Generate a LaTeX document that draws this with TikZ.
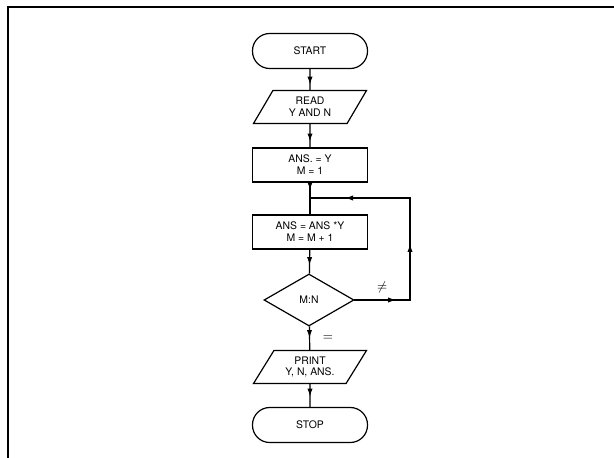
\documentclass[tikz,border=0pt]{standalone}
\usepackage{fontspec}
\setmainfont{TeX Gyre Heros}
\usetikzlibrary{positioning, arrows.meta, decorations.markings, shapes}

\tikzset{flowtip/.tip={Latex[length=2mm, width=1.3mm]}}

\begin{document}
\begin{tikzpicture}[
		x=0.25mm, y=-0.25mm,
		line width=0.3mm,
		every node/.style={font=\fontsize{7.4}{8.4}\selectfont, align=center},
		terminal/.style={draw, rectangle, rounded corners=4.3mm, minimum width=28.75mm, minimum height=8.75mm},
		io/.style={draw, trapezium, trapezium left angle=56, trapezium right angle=124, trapezium stretches body, minimum width=28.25mm, minimum height=8.25mm},
		process/.style={draw, rectangle, minimum width=28.75mm, minimum height=8.5mm},
		decision/.style={draw, diamond, minimum width=22.5mm, minimum height=13mm, inner sep=0pt},
		flow/.style={decoration={markings, mark=at position #1 with {\arrow{flowtip}}}, postaction={decorate}},
		flow/.default=0.6
	]

	\useasboundingbox (0,0) rectangle (614,458);
	\draw [line width=0.6mm] (8,458) -- (8,7) -- (614,7);

	\node[terminal] (start) at (310, 51) {START};
	\node[io] (read) at (310, 107) {READ\\Y AND N};
	\node[process] (init) at (310, 165) {ANS. = Y\\M = 1};
	\node[process] (body) at (310, 232) {ANS = ANS *Y\\M = M + 1};
	\node[decision] (test) at (309, 300) {M:N};
	\node[io] (print) at (310, 367) {PRINT\\Y, N, ANS.};
	\node[terminal] (stop) at (310, 425) {STOP};

	\coordinate (join) at (310, 198);
	\coordinate (loopout) at (410, 300);
	\coordinate (looptop) at (410, 198);

	\draw [flow=0.75] (start) -- (read);
	\draw [flow=0.75] (read) -- (init);
	\draw [flow=0.5] (init) -- (join);
	\draw (join) -- (body);
	\draw [flow=0.65] (body) -- (test);
	\draw [flow=0.5] (test) -- node [right=2mm] {\small$=$} (print);
	\draw [flow=0.55] (print) -- (stop);
	% loop back
	\draw [line cap=rect, flow=0.75] (test.east) -- node [above=0.5mm] {\small$\neq$} (loopout);
	\draw [line cap=rect, flow=0.55] (loopout) -- (looptop);
	\draw [line cap=rect, flow=0.65] (looptop) -- (join);

\end{tikzpicture}
\end{document}
